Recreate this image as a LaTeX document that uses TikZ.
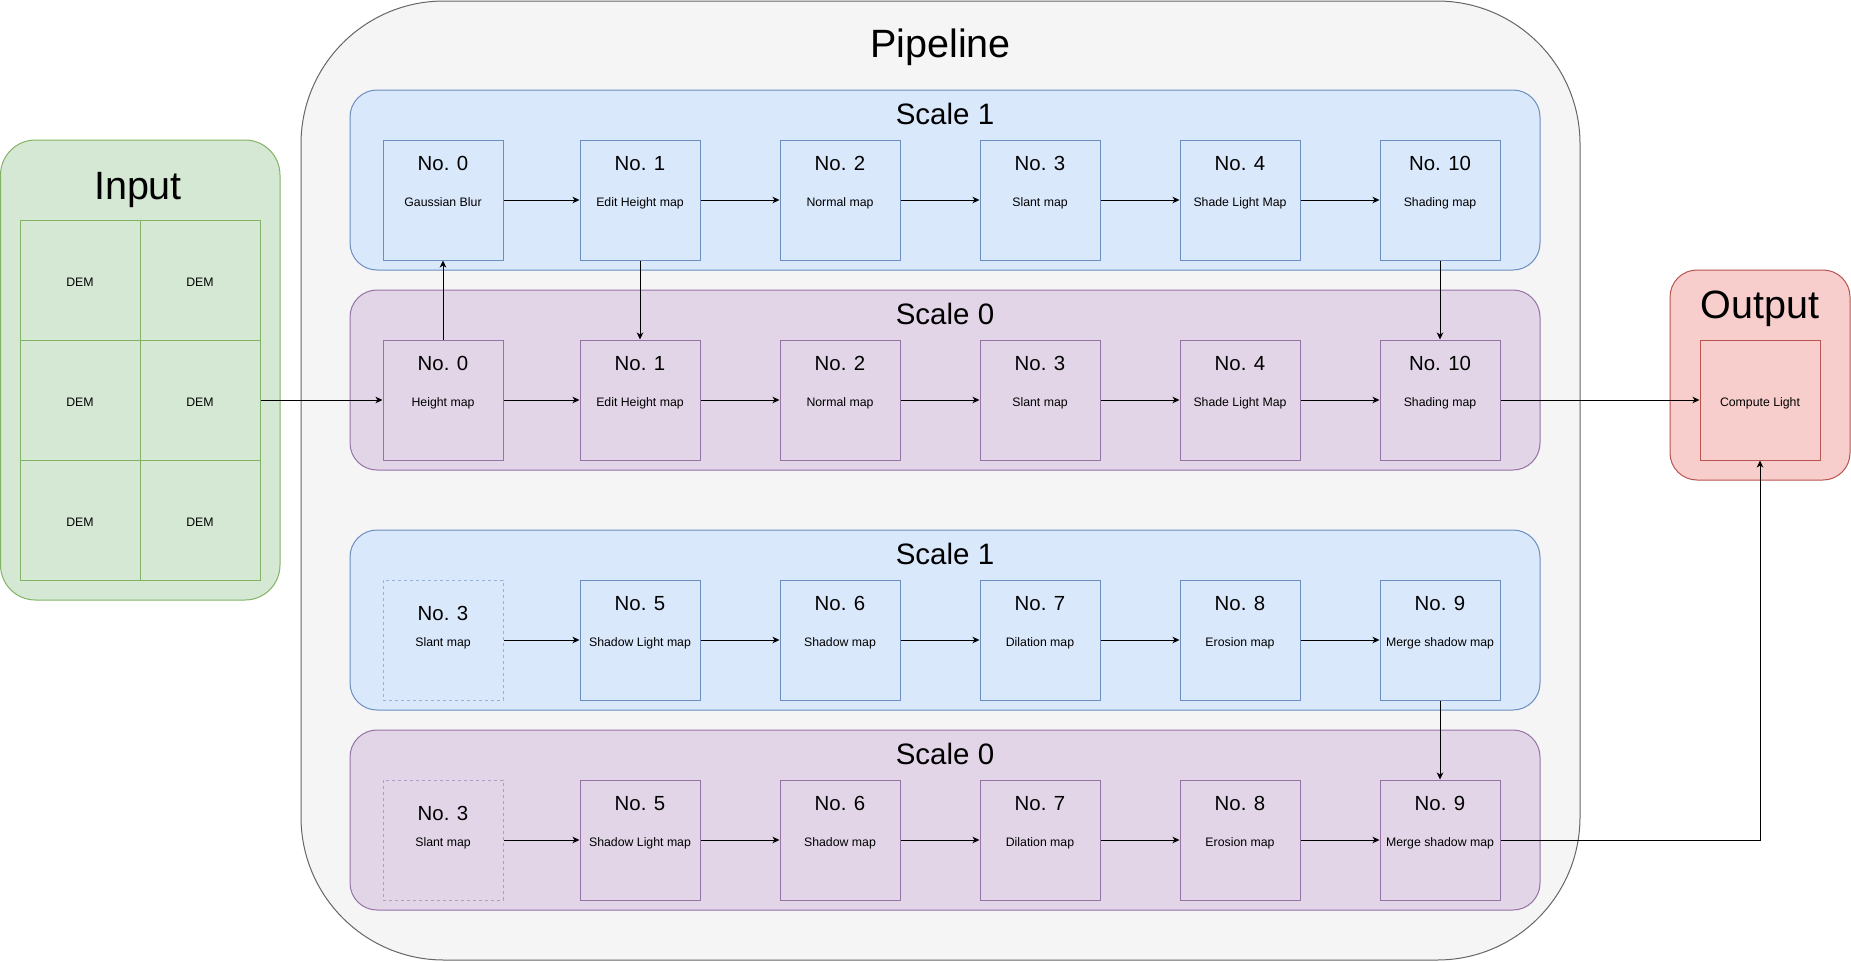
\documentclass[tikz,border=0pt]{standalone}
\usepackage{xcolor}
\usepackage{tikz}
\usepackage{fontspec}
\setmainfont{Liberation Sans}
\usetikzlibrary{arrows.meta}

\definecolor{pipefill}{HTML}{F5F5F5}
\definecolor{pipedraw}{HTML}{666666}
\definecolor{onefill}{HTML}{DAE8FC}
\definecolor{onedraw}{HTML}{6C8EBF}
\definecolor{zerofill}{HTML}{E1D5E7}
\definecolor{zerodraw}{HTML}{9673A6}
\definecolor{infill}{HTML}{D5E8D4}
\definecolor{indraw}{HTML}{82B366}
\definecolor{outfill}{HTML}{F8CECC}
\definecolor{outdraw}{HTML}{B85450}

\begin{document}
\begin{tikzpicture}[x=1pt, y=-1pt, line width=1pt, >={Stealth[length=7pt,width=6.5pt,inset=2pt]},
    big/.style={font=\fontsize{39.5}{47}\selectfont, text height=33.6pt, text depth=5.9pt},
    scaletitle/.style={font=\fontsize{29.5}{35}\selectfont, text height=25pt, text depth=4.4pt},
    numfont/.style={font=\fontsize{20.4}{24}\selectfont, text height=17.3pt, text depth=3.1pt},
    box/.style={draw, minimum width=120pt, minimum height=120pt, inner sep=0pt, font=\fontsize{12.3}{15}\selectfont, text height=12.5pt, text depth=0.5pt},
    num/.style={label={[numfont, anchor=center, yshift=-24pt]north:#1}},
    numlow/.style={label={[numfont, anchor=center, yshift=-34pt]north:#1}},
    sone/.style={draw=onedraw, fill=onefill},
    szero/.style={draw=zerodraw, fill=zerofill},
    ghost/.style={dash pattern=on 3pt off 3pt, draw opacity=0.6}]
    \useasboundingbox (0,0) rectangle (1851,961);

    % input
    \draw[draw=indraw, fill=infill, rounded corners=35pt] (0.5,140) rectangle (280,600);
    \node[big] (intitle) at (138,186) {Input};
    \node[box, draw=indraw, fill=infill] (dem11) at (80,280) {DEM};
    \node[box, draw=indraw, fill=infill] (dem12) at (200,280) {DEM};
    \node[box, draw=indraw, fill=infill] (dem21) at (80,400) {DEM};
    \node[box, draw=indraw, fill=infill] (dem22) at (200,400) {DEM};
    \node[box, draw=indraw, fill=infill] (dem31) at (80,520) {DEM};
    \node[box, draw=indraw, fill=infill] (dem32) at (200,520) {DEM};

    % pipeline
    \draw[draw=pipedraw, fill=pipefill, rounded corners=143pt] (301,1) rectangle (1580,960);
    \node[big] (pipetitle) at (940.5,44) {Pipeline};
    \draw[sone, rounded corners=27pt] (350,90) rectangle (1540,270);
    \draw[szero, rounded corners=27pt] (350,290) rectangle (1540,470);
    \draw[sone, rounded corners=27pt] (350,530) rectangle (1540,710);
    \draw[szero, rounded corners=27pt] (350,730) rectangle (1540,910);
    \node[scaletitle] (s1title) at (945,114.5) {Scale 1};
    \node[scaletitle] (s0title) at (945,314.5) {Scale 0};
    \node[scaletitle] (t1title) at (945,554.5) {Scale 1};
    \node[scaletitle] (t0title) at (945,754.5) {Scale 0};

    % shading, scale 1
    \node[box, sone, num=No. 0] (s1n0) at (443,200) {Gaussian Blur};
    \node[box, sone, num=No. 1] (s1n1) at (640,200) {Edit Height map};
    \node[box, sone, num=No. 2] (s1n2) at (840,200) {Normal map};
    \node[box, sone, num=No. 3] (s1n3) at (1040,200) {Slant map};
    \node[box, sone, num=No. 4] (s1n4) at (1240,200) {Shade Light Map};
    \node[box, sone, num=No. 10] (s1n10) at (1440,200) {Shading map};
    % shading, scale 0
    \node[box, szero, num=No. 0] (s0n0) at (443,400) {Height map};
    \node[box, szero, num=No. 1] (s0n1) at (640,400) {Edit Height map};
    \node[box, szero, num=No. 2] (s0n2) at (840,400) {Normal map};
    \node[box, szero, num=No. 3] (s0n3) at (1040,400) {Slant map};
    \node[box, szero, num=No. 4] (s0n4) at (1240,400) {Shade Light Map};
    \node[box, szero, num=No. 10] (s0n10) at (1440,400) {Shading map};
    % shadows, scale 1
    \node[box, sone, ghost, numlow=No. 3] (t1n3) at (443,640) {Slant map};
    \node[box, sone, num=No. 5] (t1n5) at (640,640) {Shadow Light map};
    \node[box, sone, num=No. 6] (t1n6) at (840,640) {Shadow map};
    \node[box, sone, num=No. 7] (t1n7) at (1040,640) {Dilation map};
    \node[box, sone, num=No. 8] (t1n8) at (1240,640) {Erosion map};
    \node[box, sone, num=No. 9] (t1n9) at (1440,640) {Merge shadow map};
    % shadows, scale 0
    \node[box, szero, ghost, numlow=No. 3] (t0n3) at (443,840) {Slant map};
    \node[box, szero, num=No. 5] (t0n5) at (640,840) {Shadow Light map};
    \node[box, szero, num=No. 6] (t0n6) at (840,840) {Shadow map};
    \node[box, szero, num=No. 7] (t0n7) at (1040,840) {Dilation map};
    \node[box, szero, num=No. 8] (t0n8) at (1240,840) {Erosion map};
    \node[box, szero, num=No. 9] (t0n9) at (1440,840) {Merge shadow map};

    % output
    \draw[draw=outdraw, fill=outfill, rounded corners=27pt] (1670,270) rectangle (1850,480);
    \node[big] (outtitle) at (1760,305) {Output};
    \node[box, draw=outdraw, fill=outfill] (light) at (1760,400) {Compute Light};

    % connectors
    \draw[->] (dem22.east) -- (s0n0.west);
    \draw[->] (s0n0.north) -- (s1n0.south);
    \draw[->] (s1n1.south) -- (s0n1.north);
    \draw[->] (s1n10.south) -- (s0n10.north);
    \draw[->] (s1n0.east) -- (s1n1.west);
    \draw[->] (s1n1.east) -- (s1n2.west);
    \draw[->] (s1n2.east) -- (s1n3.west);
    \draw[->] (s1n3.east) -- (s1n4.west);
    \draw[->] (s1n4.east) -- (s1n10.west);
    \draw[->] (s0n0.east) -- (s0n1.west);
    \draw[->] (s0n1.east) -- (s0n2.west);
    \draw[->] (s0n2.east) -- (s0n3.west);
    \draw[->] (s0n3.east) -- (s0n4.west);
    \draw[->] (s0n4.east) -- (s0n10.west);
    \draw[->] (s0n10.east) -- (light.west);
    \draw[->] (t1n3.east) -- (t1n5.west);
    \draw[->] (t1n5.east) -- (t1n6.west);
    \draw[->] (t1n6.east) -- (t1n7.west);
    \draw[->] (t1n7.east) -- (t1n8.west);
    \draw[->] (t1n8.east) -- (t1n9.west);
    \draw[->] (t1n9.south) -- (t0n9.north);
    \draw[->] (t0n3.east) -- (t0n5.west);
    \draw[->] (t0n5.east) -- (t0n6.west);
    \draw[->] (t0n6.east) -- (t0n7.west);
    \draw[->] (t0n7.east) -- (t0n8.west);
    \draw[->] (t0n8.east) -- (t0n9.west);
    \draw[->] (t0n9.east) -| (light.south);
\end{tikzpicture}
\end{document}
